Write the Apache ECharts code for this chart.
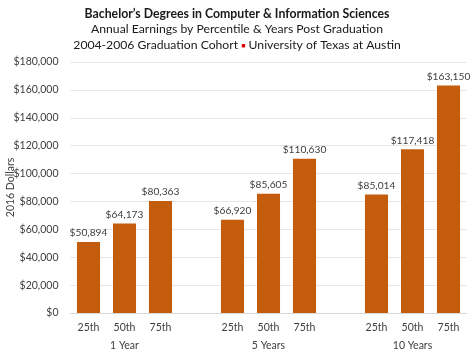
<!DOCTYPE html>
<html><head><meta charset="utf-8">
<script src="https://cdn.jsdelivr.net/npm/echarts@6/dist/echarts.min.js"></script>
<style>html,body{margin:0;padding:0;background:#fff}#c{width:474px;height:355px}</style>
</head><body><div id="c"></div>
<script>
const groups = ['1 Year', '5 Years', '10 Years'];
const percentiles = ['25th', '50th', '75th'];
const values1Year = [50894, 64173, 80363];
const values5Years = [66920, 85605, 110630];
const values10Years = [85014, 117418, 163150];
const yTicks = [0, 20000, 40000, 60000, 80000, 100000, 120000, 140000, 160000, 180000];

const groupValues = [values1Year, values5Years, values10Years];
const cats = [], groupCats = [], data = [];
groupValues.forEach((vals, gi) => {
  if (gi > 0) { cats.push(''); groupCats.push(''); data.push('-'); }
  percentiles.forEach((p, pi) => {
    cats.push(p);
    groupCats.push(pi === 1 ? groups[gi] : '');
    data.push(vals[pi]);
  });
});
const fmt = v => '$' + v.toLocaleString('en-US');
const font = 'Lato, "Open Sans", "Liberation Sans", sans-serif';

const chart = echarts.init(document.getElementById('c'), null, {renderer: 'canvas'});
chart.setOption({
  animation: false,
  textStyle: {fontFamily: font},
  title: {
    left: 'center', top: 1, itemGap: 0,
    text: 'Bachelor\u2019s Degrees in Computer & Information Sciences',
    textStyle: {fontSize: 12.3, fontWeight: 'bold', color: '#1a1a1a', fontFamily: font, lineHeight: 15.5},
    subtext: 'Annual Earnings by Percentile & Years Post Graduation\n2004-2006 Graduation Cohort {r|\u25A0} University of Texas at Austin',
    subtextStyle: {fontSize: 12.2, color: '#1a1a1a', fontFamily: font, lineHeight: 16,
      rich: {r: {color: '#e00000', fontSize: 7, fontFamily: font}}}
  },
  grid: {left: 70.5, right: 7.5, top: 62, bottom: 42, containLabel: false, outerBoundsMode: 'none'},
  xAxis: [{
    type: 'category', data: cats, position: 'bottom',
    axisLine: {show: true, lineStyle: {color: '#d9d9d9'}},
    axisTick: {show: false},
    axisLabel: {color: '#404040', fontSize: 10.5, margin: 9, interval: 0}
  }, {
    type: 'category', data: groupCats, position: 'bottom', offset: 19,
    axisLine: {show: false}, axisTick: {show: false},
    axisLabel: {color: '#404040', fontSize: 10.5, margin: 8, interval: 0}
  }],
  yAxis: {
    type: 'value', min: 0, max: yTicks[yTicks.length - 1], interval: yTicks[1] - yTicks[0],
    name: '2016 Dollars', nameLocation: 'middle', nameGap: 54, nameRotate: 90, nameMoveOverlap: false,
    nameTextStyle: {color: '#404040', fontSize: 10.5},
    axisLine: {show: false}, axisTick: {show: false},
    axisLabel: {color: '#404040', fontSize: 10.5, margin: 12, formatter: v => fmt(v)},
    splitLine: {lineStyle: {color: '#e6e6e6'}}
  },
  series: [{
    type: 'bar', data: data, barWidth: '64%', xAxisIndex: 0,
    itemStyle: {color: '#C45C0E'},
    label: {show: true, position: 'top', distance: 4, color: '#404040', fontSize: 10.2, formatter: p => fmt(p.value)}
  }]
});
</script></body></html>
